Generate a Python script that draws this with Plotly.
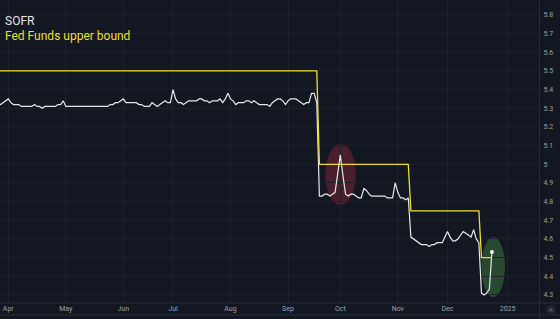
import pandas as pd
import plotly.graph_objects as go

# ---------------- data ----------------
holidays = ["2024-03-29", "2024-05-27", "2024-06-19", "2024-07-04", "2024-09-02",
            "2024-10-14", "2024-11-11", "2024-11-28", "2024-12-25"]

sofr_mar = [5.32, 5.32, 5.33, 5.34]
sofr_apr = [5.35, 5.33, 5.32, 5.32, 5.32, 5.31, 5.31, 5.31, 5.31, 5.31, 5.32,
            5.31, 5.31, 5.30, 5.31, 5.31, 5.31, 5.31, 5.31, 5.32, 5.32, 5.34]
sofr_may = [5.31, 5.31, 5.31, 5.31, 5.31, 5.31, 5.31, 5.31, 5.31, 5.31, 5.31,
            5.31, 5.31, 5.31, 5.31, 5.31, 5.31, 5.32, 5.32, 5.33, 5.33, 5.34]
sofr_jun = [5.35, 5.33, 5.33, 5.33, 5.33, 5.33, 5.32, 5.32, 5.31, 5.31, 5.31,
            5.33, 5.32, 5.31, 5.32, 5.33, 5.34, 5.33, 5.33]
sofr_jul = [5.40, 5.35, 5.33, 5.33, 5.32, 5.33, 5.34, 5.34, 5.34, 5.34, 5.35,
            5.35, 5.34, 5.34, 5.33, 5.34, 5.34, 5.34, 5.35, 5.33, 5.35, 5.38]
sofr_aug = [5.35, 5.34, 5.32, 5.33, 5.33, 5.33, 5.34, 5.34, 5.33, 5.34, 5.33,
            5.32, 5.32, 5.32, 5.32, 5.31, 5.33, 5.34, 5.35, 5.35, 5.34, 5.32]
sofr_sep = [5.34, 5.35, 5.35, 5.35, 5.34, 5.33, 5.32, 5.33, 5.33, 5.38, 5.38,
            5.33, 4.83, 4.83, 4.84, 4.84, 4.83, 4.84, 4.85, 4.95]
sofr_oct = [5.05, 4.94, 4.84, 4.83, 4.84, 4.84, 4.83, 4.82, 4.82, 4.87, 4.86,
            4.84, 4.83, 4.83, 4.83, 4.83, 4.83, 4.83, 4.82, 4.82, 4.82, 4.90]
sofr_nov = [4.85, 4.82, 4.82, 4.81, 4.82, 4.61, 4.60, 4.59, 4.58, 4.57, 4.57,
            4.57, 4.56, 4.57, 4.57, 4.58, 4.58, 4.58, 4.61]
sofr_dec = [4.64, 4.61, 4.59, 4.59, 4.60, 4.62, 4.64, 4.63, 4.62, 4.61, 4.65,
            4.60, 4.58, 4.31, 4.30, 4.31, 4.33, 4.53]

sofr = (sofr_mar + sofr_apr + sofr_may + sofr_jun + sofr_jul + sofr_aug +
        sofr_sep + sofr_oct + sofr_nov + sofr_dec)

dates = [d.strftime("%Y-%m-%d") for d in pd.bdate_range("2024-03-25", "2024-12-26")
         if d.strftime("%Y-%m-%d") not in holidays]

fed_dates = ["2024-03-25", "2024-09-18", "2024-09-19", "2024-11-07",
             "2024-11-08", "2024-12-18", "2024-12-19", "2024-12-26"]
fed_upper = [5.50, 5.50, 5.00, 5.00, 4.75, 4.75, 4.50, 4.50]

tick_dates = ["2024-04-01", "2024-05-01", "2024-06-03", "2024-07-01", "2024-08-01",
              "2024-09-03", "2024-10-01", "2024-11-01", "2024-12-02", "2025-01-03"]
tick_text = ["Apr", "May", "Jun", "Jul", "Aug", "Sep", "Oct", "Nov", "Dec", "2025"]

# highlighted points
spike_date, spike_val = "2024-10-01", 5.05

# ---------------- styling ----------------
BG = "#131722"
GRID = "#1d212c"
SEP = "#2a2e39"
TXT = "#9ea1aa"
YEL = "#f0de2e"
WHITE = "#e6e7ea"

fig = go.Figure()
fig.add_trace(go.Scatter(x=dates, y=sofr, mode="lines",
                         line=dict(color=WHITE, width=1.2), name="SOFR",
                         hoverinfo="skip"))
fig.add_trace(go.Scatter(x=fed_dates, y=fed_upper, mode="lines",
                         line=dict(color=YEL, width=1.3), name="Fed Funds upper bound",
                         hoverinfo="skip"))
fig.add_trace(go.Scatter(x=[dates[-1]], y=[sofr[-1]], mode="markers",
                         marker=dict(color="#ffffff", size=4), hoverinfo="skip"))

shapes = [
    # red highlight around quarter-end spike
    dict(type="circle", xref="x", yref="y", xsizemode="pixel", ysizemode="pixel",
         xanchor=spike_date, yanchor=spike_val, x0=-15, x1=15.5, y0=-50, y1=11,
         fillcolor="rgba(150,40,55,0.42)", line=dict(width=0), layer="below"),
    # green highlight around the last points
    dict(type="circle", xref="x", yref="y", xsizemode="pixel", ysizemode="pixel",
         xanchor=dates[-1], yanchor=sofr[-1], x0=-10.5, x1=13, y0=-45, y1=15,
         fillcolor="rgba(70,150,70,0.40)", line=dict(width=0), layer="below"),
    # separators
    dict(type="line", xref="paper", yref="paper", x0=1.0009, x1=1.0009, y0=-0.06, y1=1,
         line=dict(color=SEP, width=1)),
    dict(type="line", xref="paper", yref="paper", x0=0, x1=1.05, y0=0, y1=0,
         line=dict(color=SEP, width=1)),
    dict(type="line", xref="paper", yref="paper", x0=0, x1=1.05, y0=-0.0396, y1=-0.0396,
         line=dict(color=SEP, width=1)),
    # "A" auto-scale button
    dict(type="circle", xref="paper", yref="paper", x0=1.0145, x1=1.0312,
         y0=-0.0363, y1=-0.0066, fillcolor="#232733", line=dict(width=0)),
]

annotations = [
    dict(text="SOFR", xref="paper", yref="paper", x=0.008, y=0.9555,
         xanchor="left", yanchor="top", showarrow=False, borderpad=0,
         font=dict(family="Roboto", size=12, color="#e3e4e8")),
    dict(text="Fed Funds upper bound", xref="paper", yref="paper", x=0.008, y=0.9066,
         xanchor="left", yanchor="top", showarrow=False, borderpad=0,
         font=dict(family="Roboto", size=12, color=YEL)),
    dict(text="A", xref="paper", yref="paper", x=1.0228, y=-0.0215,
         xanchor="center", yanchor="middle", showarrow=False,
         font=dict(family="Roboto", size=6, color="#6f7380")),
]

fig.update_layout(
    width=560, height=319,
    margin=dict(l=0, r=21, t=0, b=16),
    paper_bgcolor=BG, plot_bgcolor=BG,
    showlegend=False,
    font=dict(family="Roboto"),
    shapes=shapes,
    annotations=annotations,
    xaxis=dict(
        type="date",
        range=["2024-03-25 20:00", "2025-01-21"],
        rangebreaks=[dict(bounds=["sat", "mon"]), dict(values=holidays)],
        tickmode="array", tickvals=tick_dates, ticktext=tick_text,
        showgrid=True, gridcolor=GRID, gridwidth=1,
        zeroline=False, showline=False,
        ticks="",
        tickfont=dict(family="Roboto", size=7, color=TXT),
        fixedrange=True,
    ),
    yaxis=dict(
        side="right",
        range=[4.257, 5.880],
        tick0=4.3, dtick=0.1,
        showgrid=True, gridcolor=GRID, gridwidth=1,
        zeroline=False, showline=False,
        ticks="outside", ticklen=2, tickcolor=BG,
        tickfont=dict(family="Roboto", size=7, color=TXT),
        fixedrange=True,
    ),
)

fig.write_html("out.html")
